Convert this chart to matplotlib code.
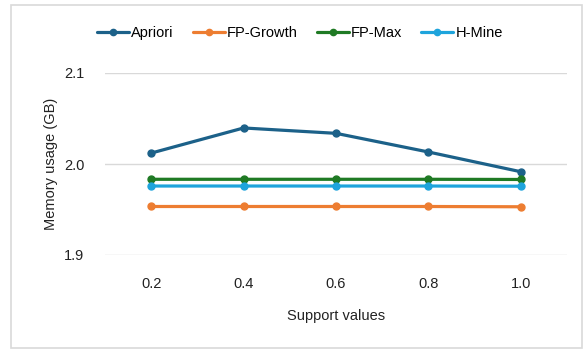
import matplotlib.pyplot as plt
from matplotlib.patches import Rectangle

plt.rcParams['font.family'] = ['Liberation Sans', 'DejaVu Sans']

# Memory usage per algorithm over the support thresholds
support = ['0.2', '0.4', '0.6', '0.8', '1.0']
apriori = [2.012, 2.0396, 2.0337, 2.0132, 1.9915]
fp_growth = [1.9533, 1.9533, 1.9533, 1.9533, 1.9530]
fp_max = [1.9832, 1.9832, 1.9832, 1.9832, 1.9830]
h_mine = [1.9758, 1.9758, 1.9758, 1.9758, 1.9756]

series = [
    ('Apriori', apriori, '#1c6189'),
    ('FP-Growth', fp_growth, '#ed7d31'),
    ('FP-Max', fp_max, '#1f7a24'),
    ('H-Mine', h_mine, '#1ea4dc'),
]

W, H = 583, 349
fig = plt.figure(figsize=(W / 100, H / 100), dpi=100)
ax = fig.add_axes([105 / W, 1 - 255 / H, (567 - 105) / W, (255 - 73) / H])

xs = range(len(support))
for name, vals, color in series:
    ax.plot(xs, vals, color=color, lw=2.3, marker='o', ms=5, label=name,
            solid_capstyle='round')

ax.set_xlim(-0.5, len(support) - 0.5)
ax.set_ylim(1.9, 2.1)
ax.set_yticks([1.9, 2.0, 2.1])
ax.set_yticklabels(['1.9', '2.0', '2.1'])
ax.set_xticks(list(xs))
ax.set_xticklabels(support)
ax.tick_params(axis='both', length=0, labelsize=10.5, colors='#222222')
ax.tick_params(axis='y', pad=15)
ax.tick_params(axis='x', pad=16)
ax.grid(axis='y', color='#d9d9d9', lw=1)
ax.set_axisbelow(True)
for s in ax.spines.values():
    s.set_visible(False)

ax.set_xlabel('Support values', fontsize=10.5, color='#222222', labelpad=13)
ax.set_ylabel('Memory usage (GB)', fontsize=10.5, color='#222222', labelpad=4)

leg = fig.legend(loc='center', bbox_to_anchor=(300 / W, 1 - 33 / H), ncol=4,
                 frameon=False, fontsize=10.5, handlelength=2.2,
                 handletextpad=0.15, columnspacing=1.3, markerscale=0.9)

# outer chart border
fig.patches.append(Rectangle((11 / W, 1 - 348 / H), (582 - 11) / W, (348 - 5) / H,
                             transform=fig.transFigure, fill=False,
                             edgecolor='#d9d9d9', lw=1.2))

fig.savefig('out.png', dpi=100)
